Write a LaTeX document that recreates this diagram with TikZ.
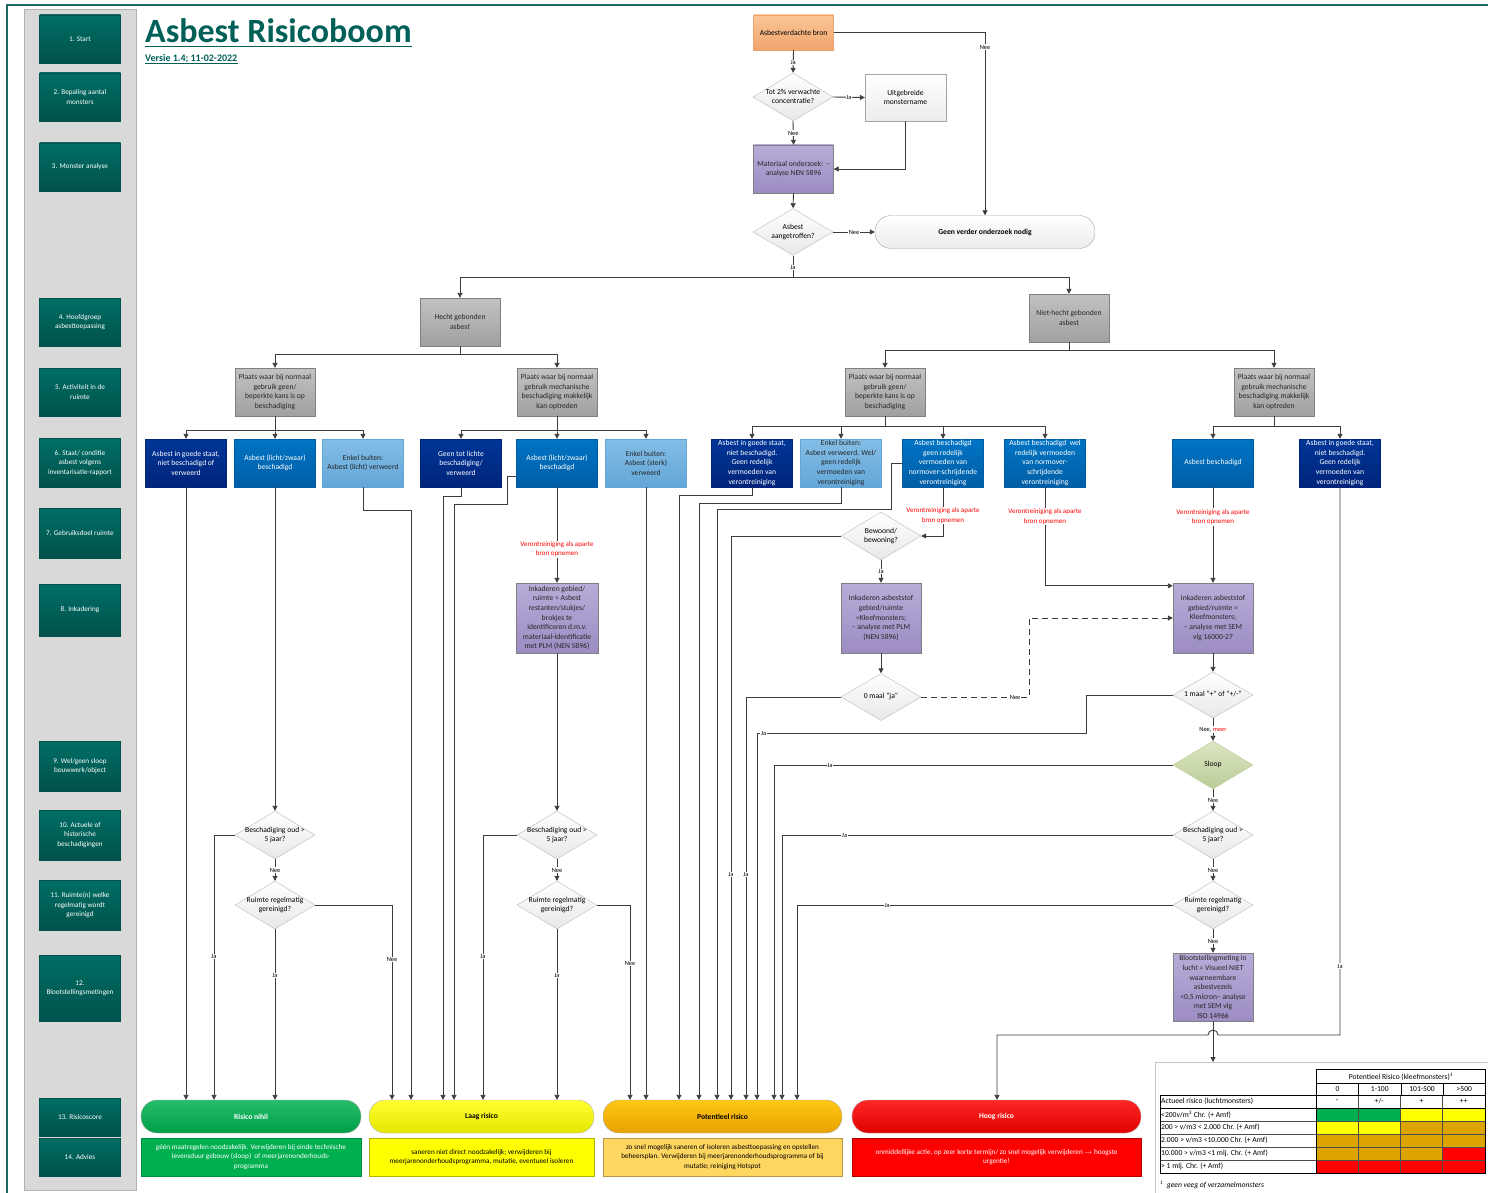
\documentclass[tikz,border=0pt]{standalone}
\usepackage{fontspec}
\setmainfont{Carlito}
\usetikzlibrary{shapes.geometric,arrows.meta}
\definecolor{zijbalk}{RGB}{217,217,217}
\definecolor{kader}{RGB}{31,104,98}
\definecolor{titelkleur}{RGB}{0,96,88}
\definecolor{tealtop}{RGB}{0,110,101}
\definecolor{tealbot}{RGB}{0,82,75}
\definecolor{lijnkleur}{RGB}{60,60,60}
\definecolor{grijstop}{RGB}{194,194,194}
\definecolor{grijsbot}{RGB}{160,160,160}
\definecolor{donkertop}{RGB}{0,54,152}
\definecolor{donkerbot}{RGB}{0,36,122}
\definecolor{blauwtop}{RGB}{0,116,196}
\definecolor{blauwbot}{RGB}{0,94,166}
\definecolor{lichttop}{RGB}{132,190,230}
\definecolor{lichtbot}{RGB}{98,166,216}
\definecolor{paarstop}{RGB}{184,172,216}
\definecolor{paarsbot}{RGB}{156,140,194}
\definecolor{brontop}{RGB}{250,198,152}
\definecolor{bronbot}{RGB}{240,164,108}
\definecolor{slooptop}{RGB}{218,230,194}
\definecolor{sloopbot}{RGB}{188,204,152}
\definecolor{groen}{RGB}{0,176,80}
\definecolor{geel}{RGB}{255,255,0}
\definecolor{oranje}{RGB}{221,163,0}
\definecolor{rood}{RGB}{255,0,0}
\definecolor{advoranje}{RGB}{255,214,96}
\newcommand\boxfont{\fontsize{7.6}{9.6}\selectfont}
\newcommand\zijfont{\fontsize{7.2}{9.4}\selectfont}
\newcommand\kleinfont{\fontsize{6.4}{7.5}\selectfont}
\newcommand\tabfont{\fontsize{7.6}{9}\selectfont}
\newcommand\ruit[1]{\makebox[0pt]{\begin{tabular}{@{}c@{}}#1\end{tabular}}}
\tikzset{
  every node/.style={font=\boxfont},
  blok/.style={rectangle, minimum width=80pt, minimum height=48pt, inner xsep=1pt, inner ysep=0.5pt, align=center},
  fase/.style={blok, minimum width=81pt, draw=tealbot, top color=tealtop, bottom color=tealbot, text=white, font=\zijfont},
  grijs/.style={blok, draw=gray, top color=grijstop, bottom color=grijsbot, text=black!85},
  donker/.style={blok, minimum width=81pt, draw=donkerbot, top color=donkertop, bottom color=donkerbot, text=white},
  blauw/.style={blok, minimum width=81pt, draw=blauwbot, top color=blauwtop, bottom color=blauwbot, text=white},
  lichtblauw/.style={blok, minimum width=81pt, draw=lichtbot, top color=lichttop, bottom color=lichtbot, text=black!85},
  paars/.style={blok, draw=gray, top color=paarstop, bottom color=paarsbot, text=black!85},
  wit/.style={blok, draw=gray!70, top color=white, bottom color=gray!15},
  oranjeblok/.style={blok, draw=bronbot, top color=brontop, bottom color=bronbot},
  keuze/.style={diamond, draw=gray!55, top color=white, bottom color=gray!18, minimum width=80pt, minimum height=48pt, inner sep=0pt},
  balk/.style={rectangle, rounded corners=16pt, minimum height=33pt, draw=gray!60, font=\boxfont\bfseries},
  advies/.style={rectangle, minimum height=38pt, inner sep=1pt, align=center, font=\fontsize{7.2}{9.4}\selectfont},
  pijl/.style={draw=lijnkleur, line width=0.9pt, -{Triangle[length=5pt,width=5pt]}},
  lbl/.style={fill=white, inner sep=0.6pt, font=\kleinfont, text=black},
  waarschuwing/.style={fill=white, inner sep=1pt, align=center, text=red, font=\fontsize{7}{9.4}\selectfont}
}
\begin{document}
\begin{tikzpicture}[x=1pt, y=-1pt]
\useasboundingbox (0,0) rectangle (1488,1193);
% kader en zijbalk
\draw[kader, line width=2.2pt] (7,1193) -- (7,5) -- (1488,5);
\draw[fill=zijbalk, draw=gray!60] (24,9) rectangle (136,1190);
\foreach \n/\y/\h/\t in {1/39/48/{1. Start}, 2/97/48/{2. Bepaling aantal\\monsters}, 3/167/48/{3. Monster analyse},
    4/322/48/{4. Hoofdgroep\\asbesttoepassing}, 5/392/48/{5. Activiteit in de\\ruimte},
    6/463/49/{6. Staat/ conditie\\asbest volgens\\inventarisatie-rapport}, 7/533/50/{7. Gebruiksdoel ruimte},
    8/610/52/{8. Inkadering}, 9/766/50/{9. Wel/geen sloop\\bouwwerk/object},
    10/835/50/{10. Actuele of\\historische\\beschadigingen}, 11/905/50/{11. Ruimte(n) welke\\regelmatig wordt\\gereinigd},
    12/988/66/{12.\\Blootstellingsmetingen}, 13/1117/38/{13. Risicoscore}, 14/1157/38/{14. Advies}}
  \node[fase, minimum height=\h pt] (f\n) at (80,\y) {\t};

% titel
\node[anchor=base west, inner sep=0pt, text=titelkleur, font=\fontsize{34}{40}\selectfont\bfseries] (titel) at (145,43) {Asbest Risicoboom};
\draw[titelkleur, line width=1.8pt] ([yshift=-3.5pt]titel.base west) -- ([yshift=-3.5pt]titel.base east);
\node[anchor=base west, inner sep=0pt, text=titelkleur, font=\fontsize{10}{12}\selectfont\bfseries] (versie) at (145,62) {Versie 1.4; 11-02-2022};
\draw[titelkleur, line width=0.6pt] ([yshift=-1.8pt]versie.base west) -- ([yshift=-1.8pt]versie.base east);

% start
\node[oranjeblok, minimum height=35pt] (bron) at (793.5,32.5) {Asbestverdachte bron};
\node[keuze] (q2) at (793,97) {\ruit{Tot 2\% verwachte\\concentratie?}};
\node[wit, minimum width=81pt, minimum height=47pt] (uitg) at (905.5,97.5) {Uitgebreide\\monstername};
\node[paars] (mat) at (793.5,169) {Materiaal onderzoek: –\\analyse NEN 5896};
\node[keuze, minimum height=47pt] (qa) at (793,232) {\ruit{Asbest\\aangetroffen?}};
\node[wit, rounded corners=16pt, minimum width=220pt, minimum height=33pt, font=\boxfont\bfseries] (geen) at (985,232) {Geen verder onderzoek nodig};

% hoofdgroep en activiteit
\node[grijs] (hecht) at (460,322) {Hecht gebonden\\asbest};
\node[grijs] (niet) at (1069,318) {Niet-hecht gebonden\\asbest};
\node[grijs] (pA) at (275,392) {Plaats waar bij normaal\\gebruik geen/\\beperkte kans is op\\beschadiging};
\node[grijs] (pB) at (557,392) {Plaats waar bij normaal\\gebruik mechanische\\beschadiging makkelijk\\kan optreden};
\node[grijs] (pC) at (885,392) {Plaats waar bij normaal\\gebruik geen/\\beperkte kans is op\\beschadiging};
\node[grijs] (pD) at (1274,392) {Plaats waar bij normaal\\gebruik mechanische\\beschadiging makkelijk\\kan optreden};

% staat / conditie
\node[donker] (a1) at (186,463) {Asbest in goede staat,\\niet beschadigd of\\verweerd};
\node[blauw] (a2) at (275,463) {Asbest (licht/zwaar)\\beschadigd};
\node[lichtblauw] (a3) at (363,463) {Enkel buiten:\\Asbest (licht) verweerd};
\node[donker] (b1) at (461,463) {Geen tot lichte\\beschadiging/\\verweerd};
\node[blauw] (b2) at (557,463) {Asbest (licht/zwaar)\\beschadigd};
\node[lichtblauw] (b3) at (646,463) {Enkel buiten:\\Asbest (sterk)\\verweerd};
\node[donker] (c1) at (752,463) {Asbest in goede staat,\\niet beschadigd.\\Geen redelijk\\vermoeden van\\verontreiniging};
\node[lichtblauw] (c2) at (841,463) {Enkel buiten:\\Asbest verweerd. Wel/\\geen redelijk\\vermoeden van\\verontreiniging};
\node[blauw] (c3) at (943,463) {Asbest beschadigd\\geen redelijk\\vermoeden van\\normover-schrijdende\\verontreiniging};
\node[blauw] (c4) at (1045,463) {Asbest beschadigd\ \ wel\\redelijk vermoeden\\van normover-\\schrijdende\\verontreiniging};
\node[blauw] (d1) at (1213,463) {Asbest beschadigd};
\node[donker] (d2) at (1340,463) {Asbest in goede staat,\\niet beschadigd.\\Geen redelijk\\vermoeden van\\verontreiniging};

% inkadering en vragen
\node[paars, minimum width=82pt, minimum height=70pt] (inkB) at (557,618) {Inkaderen gebied/\\ruimte = Asbest\\restanten/stukjes/\\brokjes te\\identificeren d.m.v.\\materiaal-identificatie\\met PLM (NEN 5896)};
\node[keuze] (bew) at (881,536) {\ruit{Bewoond/\\bewoning?}};
\node[paars, minimum height=70pt] (inkC) at (881,618) {Inkaderen asbeststof\\gebied/ruimte\\=Kleefmonsters;\\– analyse met PLM\\(NEN 5896)};
\node[keuze, minimum height=47pt] (nul) at (881,697) {\ruit{0 maal “ja”}};
\node[paars, minimum height=70pt] (inkD) at (1213,618) {Inkaderen asbeststof\\gebied/ruimte =\\Kleefmonsters;\\– analyse met SEM\\vlg 16000-27};
\node[keuze, minimum height=46pt] (een) at (1213,695) {\ruit{1 maal “+” of “+/-”}};
\node[keuze, top color=slooptop, bottom color=sloopbot, draw=sloopbot] (sloop) at (1213,765) {\ruit{Sloop}};
\node[keuze] (oudA) at (275,835) {\ruit{Beschadiging oud >\\5 jaar?}};
\node[keuze] (rgA) at (275,905) {\ruit{Ruimte regelmatig\\gereinigd?}};
\node[keuze] (oudB) at (557,835) {\ruit{Beschadiging oud >\\5 jaar?}};
\node[keuze] (rgB) at (557,905) {\ruit{Ruimte regelmatig\\gereinigd?}};
\node[keuze] (oudD) at (1213,835) {\ruit{Beschadiging oud >\\5 jaar?}};
\node[keuze] (rgD) at (1213,905) {\ruit{Ruimte regelmatig\\gereinigd?}};
\node[paars, minimum height=68pt] (bloot) at (1213,987) {Blootstellingmeting in\\lucht = Visueel NIET\\waarneembare\\asbestvezels\\<0,5 micron– analyse\\met SEM vlg\\ISO 14966};

% risicoscore en advies
\node[balk, minimum width=220pt, top color=groen!85!white, bottom color=groen!90!black, text=white] (nihil) at (251,1116.5) {Risico nihil};
\node[balk, minimum width=225pt, top color=geel!80!white, bottom color=geel!90!black] (laag) at (481.5,1116.5) {Laag risico};
\node[balk, minimum width=239pt, top color={rgb,255:red,255;green,200;blue,20}, bottom color={rgb,255:red,232;green,160;blue,0}] (pot) at (722.5,1116.5) {Potentieel risico};
\node[balk, minimum width=289pt, top color=rood!85!white, bottom color=rood!88!black, text=white] (hoog) at (996.5,1116.5) {Hoog risico};
\node[advies, minimum width=220pt, fill=groen, draw=groen!80!black, text=white] (advnihil) at (251,1157) {géén maatregelen noodzakelijk. Verwijderen bij einde technische\\levensduur gebouw (sloop)\ \ of meerjarenonderhouds-\\programma};
\node[advies, minimum width=225pt, fill=geel, draw=geel!70!black] (advlaag) at (481.5,1157) {saneren niet direct noodzakelijk; verwijderen bij\\meerjarenonderhoudsprogramma, mutatie, eventueel isoleren};
\node[advies, minimum width=239pt, fill=advoranje, draw=advoranje!70!black] (advpot) at (722.5,1157) {zo snel mogelijk saneren of isoleren asbesttoepassing en opstellen\\beheersplan. Verwijderen bij meerjarenonderhoudsprogramma of bij\\mutatie; reiniging Hotspot};
\node[advies, minimum width=289pt, fill=rood, draw=rood!70!black, text=white] (advhoog) at (996.5,1157) {onmiddellijke actie, op zeer korte termijn/ zo snel mogelijk verwijderen $\rightarrow$ hoogste\\urgentie!};
\foreach \n/\x in {n2/214, l1/392, l2/411, l3/443, l4/454, l5/483, p1/630, p3/679, p4/699, p5/717, p6/731, p7/746, p8/757, p9/774, p10/782, p11/797, h1/997}
  \coordinate (\n) at (\x,0 |- nihil.north);

% verbindingen bovenin
\draw[pijl] (bron.east) -| node[lbl, pos=0.54]{Nee} (geen.north);
\draw[pijl] (bron.south) -- node[lbl, pos=0.55]{Ja} (q2.north);
\draw[pijl] (q2.east) -- node[lbl]{Ja} (uitg.west);
\draw[pijl] (q2.south) -- node[lbl]{Nee} (mat.north);
\draw[pijl] (uitg.south) |- (mat.east);
\draw[pijl] (mat.south) -- (qa.north);
\draw[pijl] (qa.east) -- node[lbl]{Nee} (geen.west);
\coordinate (splits) at (qa.south |- 0,277);
\draw[draw=lijnkleur, line width=0.9pt] (qa.south) -- node[lbl, pos=0.55]{Ja} (splits);
\draw[pijl] (splits) -| (hecht.north);
\draw[pijl] (splits) -| (niet.north);
\draw[pijl] (hecht.south) -- ++(0,8) -| (pA.north);
\draw[pijl] (hecht.south) -- ++(0,8) -| (pB.north);
\draw[pijl] (niet.south) -- ++(0,8) -| (pC.north);
\draw[pijl] (niet.south) -- ++(0,8) -| (pD.north);
\foreach \b in {a1,a2,a3} \draw[pijl] (pA.south) -- ++(0,14) -| (\b.north);
\foreach \b in {b1,b2,b3} \draw[pijl] (pB.south) -- ++(0,14) -| (\b.north);
\foreach \b in {c1,c2,c3,c4} \draw[pijl] (pC.south) -- ++(0,10) -| (\b.north);
\foreach \b in {d1,d2} \draw[pijl] (pD.south) -- ++(0,10) -| (\b.north);

% hecht gebonden
\draw[pijl] (a1.south) -- (a1.south |- nihil.north);
\draw[pijl] (a2.south) -- (oudA.north);
\draw[pijl] (oudA.west) -| node[lbl, pos=0.73]{Ja} (n2);
\draw[pijl] (oudA.south) -- node[lbl]{Nee} (rgA.north);
\draw[pijl] (rgA.east) -| node[lbl, pos=0.64]{Nee} (l1);
\draw[pijl] (rgA.south) -- node[lbl, pos=0.27]{Ja} (rgA.south |- nihil.north);
\draw[pijl] (a3.south) -- ++(0,23) -| (l2);
\draw[pijl] (b1.south) -- ++(0,9) -| (l3);
\draw[pijl] ([yshift=-13pt]b2.west) -- ++(-9,0) -- ++(0,28) -| (l4);
\draw[pijl] (b2.south) -- node[waarschuwing, pos=0.65]{Verontreiniging als aparte\\bron opnemen} (inkB.north);
\draw[pijl] (b3.south) -- (b3.south |- pot.north);
\draw[pijl] (inkB.south) -- (oudB.north);
\draw[pijl] (oudB.west) -| node[lbl, pos=0.73]{Ja} (l5);
\draw[pijl] (oudB.south) -- node[lbl]{Nee} (rgB.north);
\draw[pijl] (rgB.east) -| node[lbl, pos=0.65]{Nee} (p1);
\draw[pijl] (rgB.south) -- node[lbl, pos=0.27]{Ja} (rgB.south |- laag.north);

% niet-hecht gebonden
\draw[pijl] (c1.south) -- ++(0,8) -| (p3);
\draw[pijl] (c2.south) -- ++(0,16) -| (p4);
\draw[pijl] (c3.west) -- ++(-11,0) -- ++(0,46) -| (p5);
\draw[pijl] (c3.south) |- node[waarschuwing, pos=0.29]{Verontreiniging als aparte\\bron opnemen} (bew.east);
\draw[pijl] (bew.west) -| node[lbl, pos=0.8]{Ja} (p6);
\draw[pijl] (bew.south) -- node[lbl]{Ja} (inkC.north);
\draw[pijl] (inkC.south) -- (nul.north);
\draw[pijl] (nul.west) -| node[lbl, pos=0.72]{Ja} (p7);
\draw[pijl, dash pattern=on 6pt off 4pt] (nul.east) -- node[lbl, pos=0.87]{Nee} ++(108,0) |- (inkD.west);
\draw[pijl] (c4.south) |- node[waarschuwing, pos=0.15]{Verontreiniging als aparte\\bron opnemen} ([yshift=-3pt]inkD.north west);
\draw[pijl] (d1.south) -- node[waarschuwing, pos=0.31]{Verontreiniging als aparte\\bron opnemen} (inkD.north);
\draw[pijl] (inkD.south) -- (een.north);
\draw[pijl] (een.west) -- ++(-86,0) -- ++(0,38) -| node[lbl, pos=0.49]{Ja} (p8);
\draw[pijl] (een.south) -- node[lbl]{Nee, \textcolor{red}{meer}} (sloop.north);
\draw[pijl] (sloop.west) -| node[lbl, pos=0.43]{Ja} (p9);
\draw[pijl] (sloop.south) -- node[lbl]{Nee} (oudD.north);
\draw[pijl] (oudD.west) -| node[lbl, pos=0.42]{Ja} (p10);
\draw[pijl] (oudD.south) -- node[lbl]{Nee} (rgD.north);
\draw[pijl] (rgD.west) -| node[lbl, pos=0.38]{Ja} (p11);
\draw[pijl] (rgD.south) -- node[lbl]{Nee} (bloot.north);

% tabel
\node[draw=gray!45, line width=0.8pt, minimum width=345pt, minimum height=131pt, anchor=north west, inner sep=0pt] (tabel) at (1155,1062) {};
\draw[pijl] (bloot.south) -- (bloot.south |- tabel.north);
\coordinate (kruis) at (bloot.south |- 0,1035);
\draw[pijl] (d2.south) |- node[lbl, pos=0.437]{Ja} ([xshift=5pt]kruis) arc[start angle=0, end angle=180, radius=5pt] -| (h1);
\foreach \rij [count=\r] in {{groen,groen,geel,geel},{geel,geel,oranje,oranje},{oranje,oranje,oranje,oranje},{oranje,oranje,oranje,rood},{rood,rood,rood,rood}}
  \foreach \k [count=\c] in \rij
    \fill[\k] ({1316+42.25*(\c-1)},{1108+13*(\r-1)}) rectangle ++(42.25,13);
\node[draw=black, line width=0.8pt, minimum width=169pt, minimum height=14pt, anchor=north west, inner sep=0pt, font=\tabfont] (kop) at (1316,1069) {Potentieel Risico (kleefmonsters)\textsuperscript{1}};
\foreach \t [count=\c] in {0,1-100,101-500,{>500}}
  \node[draw=black, line width=0.8pt, minimum width=42.25pt, minimum height=12pt, anchor=north west, inner sep=0pt, font=\tabfont] (kol\c) at ({1316+42.25*(\c-1)},1083) {\t};
\foreach \t [count=\c] in {-,{+/-},+,++}
  \node[inner sep=0pt, font=\tabfont] (sym\c) at ({1337+42.25*(\c-1)},1101.5) {\t};
\foreach \t [count=\r from 0] in {{Actueel risico (luchtmonsters)}, {<200v/m\textsuperscript{3} Chr. (+ Amf)}, {200 > v/m3 < 2.000 Chr. (+ Amf)}, {2.000 > v/m3 <10.000 Chr. (+ Amf)}, {10.000 > v/m3 <1 mlj. Chr. (+ Amf)}, {> 1 mlj. Chr. (+ Amf)}}
  \node[anchor=west, inner sep=1pt, font=\tabfont] (rij\r) at (1160,{1101.5+13*\r}) {\t};
\foreach \y in {1121,1134,1147,1160} \draw[gray!60!black, line width=0.6pt] (1160,\y) -- (1485,\y);
\foreach \x in {1358.25,1400.5,1442.75} \draw[gray!60!black, line width=0.6pt] (\x,1095) -- (\x,1173);
\draw[black, line width=0.9pt] (1160,1095) rectangle (1485,1173);
\draw[black, line width=0.9pt] (1160,1108) -- (1485,1108);
\draw[black, line width=0.9pt] (1316,1095) -- (1316,1173);
\node[anchor=west, inner sep=0pt, font=\tabfont\itshape] (voetnoot) at (1160,1185) {\textsuperscript{1}\ \ geen veeg of verzamelmonsters};
\end{tikzpicture}
\end{document}
